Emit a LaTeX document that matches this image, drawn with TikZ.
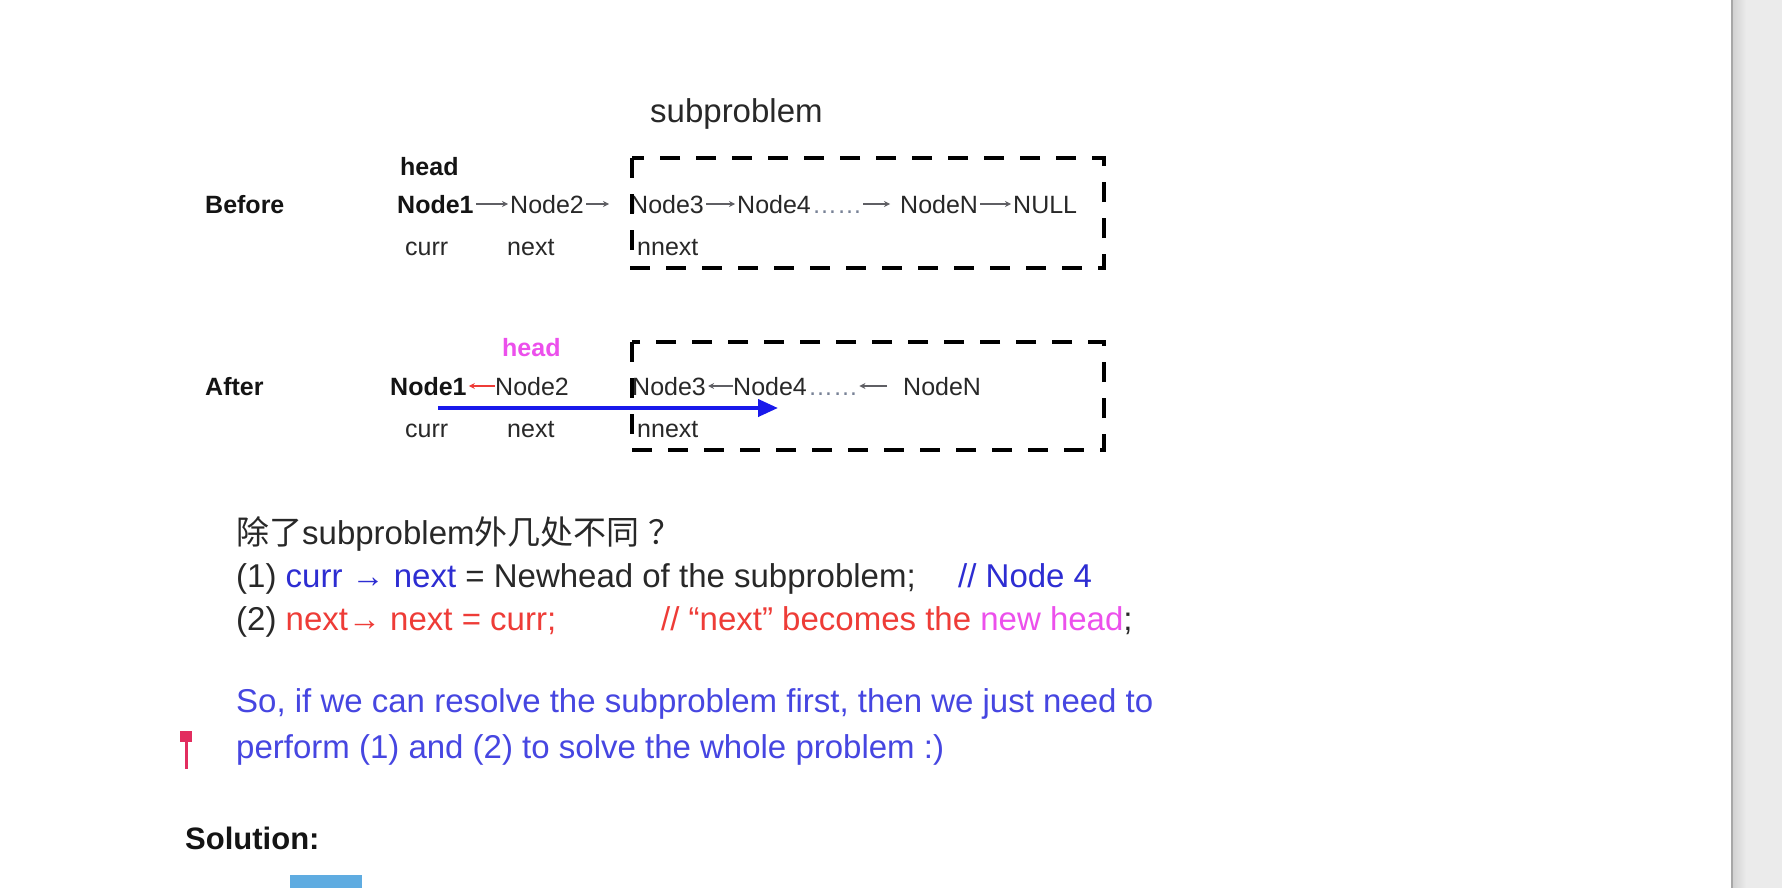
\documentclass[tikz,border=0pt]{standalone}
\usepackage{fontspec}
\setmainfont{Liberation Sans}
\newfontfamily\cjk{Noto Sans CJK SC}
\usepackage{xcolor}
\usepackage{tikz}
\usetikzlibrary{arrows.meta, positioning}
\definecolor{mydark}{RGB}{40,40,40}
\definecolor{myblack}{RGB}{20,20,20}
\definecolor{mygrey}{RGB}{95,95,100}
\definecolor{mydots}{RGB}{120,130,150}
\definecolor{myblue}{RGB}{45,45,210}
\definecolor{mysoblue}{RGB}{70,70,225}
\definecolor{myarrowblue}{RGB}{25,25,235}
\definecolor{myred}{RGB}{238,60,55}
\definecolor{mypink}{RGB}{236,80,236}
\definecolor{mymarker}{RGB}{226,45,95}
\definecolor{mypanel}{RGB}{235,235,235}
\definecolor{mypaneledge}{RGB}{208,208,208}
\definecolor{mybutton}{RGB}{95,172,225}
\tikzset{
  item/.style={anchor=base west, inner sep=0pt, text height=18pt, text depth=0pt,
    font=\fontsize{25}{30}\selectfont, text=mydark},
  bolditem/.style={item, font=\fontsize{25}{30}\selectfont\bfseries, text=myblack},
  dotsitem/.style={item, text=mydots},
  ptrlabel/.style={anchor=base west, inner sep=0pt, font=\fontsize{25}{30}\selectfont, text=mydark},
  rowlabel/.style={anchor=base west, inner sep=0pt, font=\fontsize{25}{30}\selectfont\bfseries, text=myblack},
  body/.style={anchor=base west, inner sep=0pt, font=\fontsize{33}{40}\selectfont, text=mydark},
  boldbody/.style={body, font=\fontsize{31}{38}\selectfont\bfseries, text=myblack},
  link/.style={-{Stealth[length=6pt,width=6pt]}, line width=1.1pt, color=mygrey,
    shorten <=2pt, shorten >=2pt},
  redlink/.style={link, color=myred},
  bigarrow/.style={-{Triangle[length=20pt,width=17pt]}, line width=4pt, color=myarrowblue},
  subbox/.style={draw=black, line width=4.5pt, dash pattern=on 20pt off 16pt}
}
\begin{document}
\begin{tikzpicture}[x=1pt, y=-1pt]
  \useasboundingbox (0,0) rectangle (1782,888);
  \fill[white] (0,0) rectangle (1782,888);

  % scroll bar panel
  \fill[mypanel] (1732,0) rectangle (1782,888);
  \shade[left color=mypaneledge, right color=mypanel] (1732,0) rectangle (1746,888);
  \fill[mypaneledge!80!black] (1731,0) rectangle (1733,888);

  \node[body] (subtitle) at (650,123) {subproblem};

  % Before
  \node[rowlabel] (before) at (205,213) {Before};
  \node[rowlabel] (bhead) at (400,175) {head};
  \node[bolditem] (b1) at (397,213) {Node1};
  \node[item] (b2) at (510,213) {Node2};
  \node[item] (b3) at (630,213) {Node3};
  \node[item] (b4) at (737,213) {Node4};
  \node[dotsitem] (bdots) at (812,213) {……};
  \node[item] (bN) at (900,213) {NodeN};
  \node[item] (bnull) at (1013,213) {NULL};
  \draw[link] (b1) -- (b2);
  \draw[link, shorten >=21pt] (b2) -- (b3);
  \draw[link] (b3) -- (b4);
  \draw[link, shorten <=1pt, shorten >=10pt] (bdots) -- (bN);
  \draw[link] (bN) -- (bnull);
  \node[ptrlabel] (bcurr) at (405,255) {curr};
  \node[ptrlabel] (bnext) at (507,255) {next};
  \node[ptrlabel] (bnnext) at (637,255) {nnext};
  \draw[subbox] (632,158) rectangle (1104,268);

  % After
  \node[rowlabel] (after) at (205,395) {After};
  \node[rowlabel, text=mypink] (ahead) at (502,356) {head};
  \node[bolditem] (a1) at (390,395) {Node1};
  \node[item] (a2) at (495,395) {Node2};
  \node[item] (a3) at (632,395) {Node3};
  \node[item] (a4) at (733,395) {Node4};
  \node[dotsitem] (adots) at (808,395) {……};
  \node[item] (aN) at (903,395) {NodeN};
  \draw[redlink, shorten <=0pt] (a2) -- (a1);
  \draw[link, shorten <=0pt] (a4) -- (a3);
  \draw[link, shorten <=16pt, shorten >=1pt] (aN) -- (adots);
  \node[ptrlabel] (acurr) at (405,437) {curr};
  \node[ptrlabel] (anext) at (507,437) {next};
  \node[ptrlabel] (annext) at (637,437) {nnext};
  \coordinate (bluefrom) at (438,408);
  \coordinate (blueto) at (778,408);
  \draw[bigarrow] (bluefrom) -- (blueto);
  \draw[subbox] (632,342) rectangle (1104,450);

  % notes
  \node[body] (question) at (236,544) {{\cjk 除了}subproblem{\cjk 外几处不同}\hspace{9pt}{\cjk ？}};
  \node[body] (step1) at (236,587) {(1) \textcolor{myblue}{curr → next} = Newhead of the subproblem;};
  \node[body, text=myblue] (note1) at (958,587) {// Node 4};
  \node[body] (step2) at (236,630) {(2) \textcolor{myred}{next→ next = curr;}};
  \node[body, text=myred] (note2) at (661,630) {// “next” becomes the \textcolor{mypink}{new head}\textcolor{mydark}{;}};
  \node[body, text=mysoblue] (so1) at (236,712) {So, if we can resolve the subproblem first, then we just need to};
  \node[body, text=mysoblue] (so2) at (236,758) {perform (1) and (2) to solve the whole problem :)};
  \node[boldbody] (solution) at (185,849) {Solution:};

  % cursor mark and button
  \fill[mymarker] (180,731) rectangle (192,742);
  \draw[mymarker, line width=3pt] (186,742) -- (186,769);
  \fill[mybutton] (290,875) rectangle (362,888);
\end{tikzpicture}
\end{document}
